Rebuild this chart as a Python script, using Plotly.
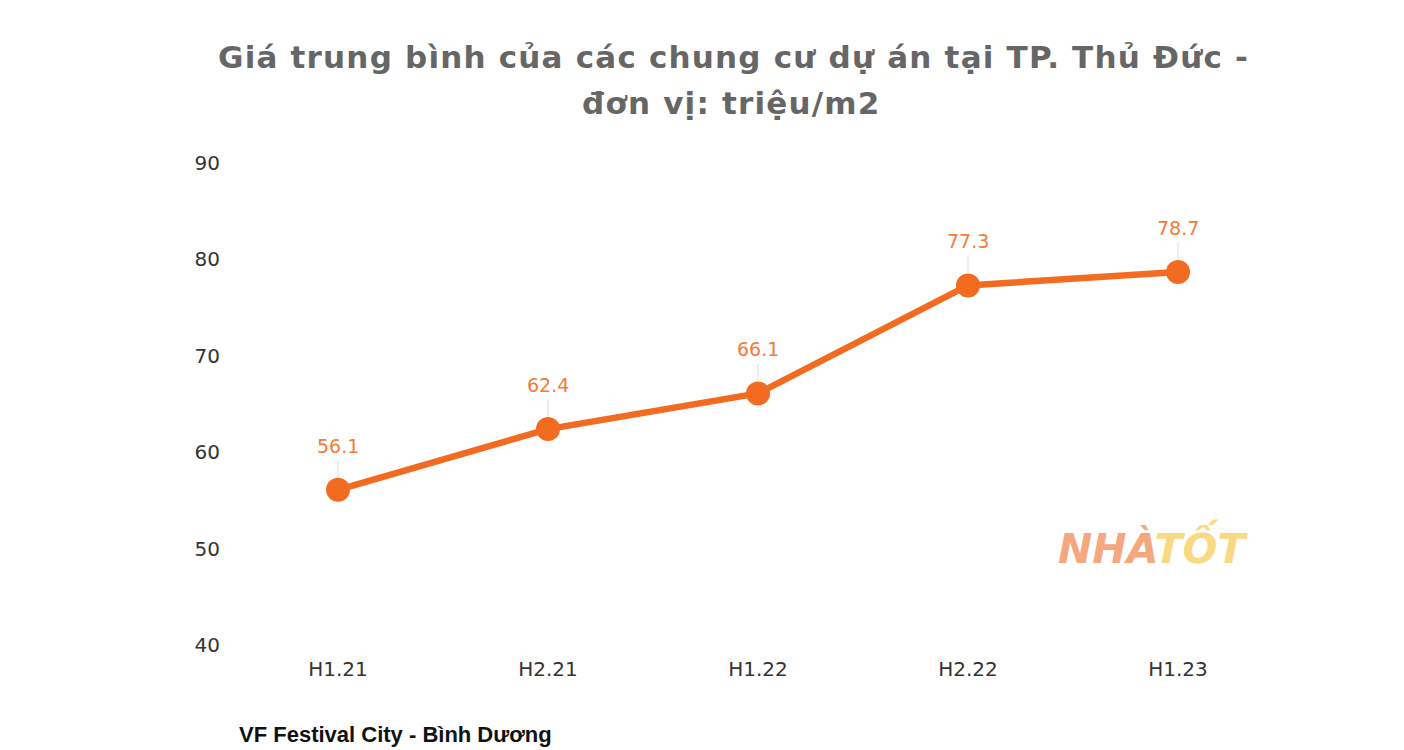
import plotly.graph_objects as go

periods = ["H1.21", "H2.21", "H1.22", "H2.22", "H1.23"]
prices = [56.1, 62.4, 66.1, 77.3, 78.7]
y_ticks = [40, 50, 60, 70, 80, 90]

title_line1 = "Giá trung bình của các chung cư dự án tại TP. Thủ Đức -"
title_line2 = "đơn vị: triệu/m2"
footer_text = "VF Festival City - Bình Dương"

orange = "#F26B21"
label_color = "#F47B3A"
tick_font = dict(family="DejaVu Sans, Liberation Sans, Arial", size=20, color="#333333")

fig = go.Figure()
fig.add_trace(go.Scatter(
    x=periods, y=prices, mode="lines+markers",
    line=dict(color=orange, width=6.5),
    marker=dict(color=orange, size=24),
    cliponaxis=False,
    showlegend=False,
    hoverinfo="x+y",
))

# value labels with thin grey leader lines
for p, v in zip(periods, prices):
    fig.add_annotation(x=p, y=v, ax=0, ay=-31, text="", showarrow=True,
                       arrowhead=0, arrowwidth=1, arrowcolor="#dcdcdc",
                       standoff=12, startstandoff=0)
    fig.add_annotation(x=p, y=v, text=f"{v:.1f}", showarrow=False,
                       yanchor="middle", yshift=44,
                       font=dict(family="DejaVu Sans, Liberation Sans, Arial", size=19, color=label_color))

title_font = dict(family="DejaVu Sans, Liberation Sans, Arial", size=31, color="#666666")
fig.add_annotation(xref="paper", yref="paper", x=0.4762, y=1.2199,
                   xanchor="center", yanchor="middle", showarrow=False,
                   text=f"<b><span style='letter-spacing:1.2px'>{title_line1}</span></b>",
                   font=title_font)
fig.add_annotation(xref="paper", yref="paper", x=0.4752, y=1.1245,
                   xanchor="center", yanchor="middle", showarrow=False,
                   text=f"<b><span style='letter-spacing:1.2px'>{title_line2}</span></b>",
                   font=title_font)

fig.add_annotation(
    xref="paper", yref="paper", x=0.9686, y=0.2054, xanchor="right", yanchor="middle",
    text="<b><i><span style='color:#F5A880'>NHÀ</span><span style='color:#FAD983'>TỐT</span></i></b>",
    showarrow=False, font=dict(family="DejaVu Sans, Arial", size=41),
)

fig.add_annotation(
    xref="paper", yref="paper", x=0.0038, y=-0.2158, xanchor="left", yanchor="bottom",
    text=f"<b>{footer_text}</b>",
    showarrow=False, font=dict(family="Liberation Sans, Arial", size=22, color="#111111"),
)

fig.update_layout(
    width=1396, height=742,
    paper_bgcolor="white", plot_bgcolor="white",
    margin=dict(l=225, r=121, t=155, b=105),
    xaxis=dict(type="category", range=[-0.5, 4.5], showgrid=False, showline=False,
               zeroline=False, ticks="", ticklabelstandoff=10, tickfont=tick_font),
    yaxis=dict(range=[40, 90], tickvals=y_ticks, showgrid=False, showline=False,
               zeroline=False, ticks="", ticklabelstandoff=12, tickfont=tick_font),
)

fig.write_html("out.html")
